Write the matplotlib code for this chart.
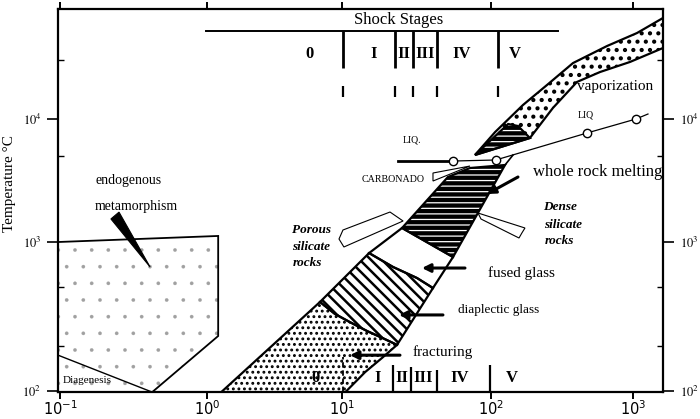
import numpy as np
import matplotlib
matplotlib.use("Agg")
import matplotlib.pyplot as plt
from matplotlib.patches import Polygon
from matplotlib.ticker import FixedLocator, NullLocator

SERIF = ["Liberation Serif", "DejaVu Serif"]
plt.rcParams["font.family"] = SERIF
plt.rcParams["hatch.linewidth"] = 1.2

# ------------------------------------------------------------------ data
# shock pressure P in GPa (x), temperature T in degC (y)
x_ticks = [0.1, 1, 10, 100, 1000]
x_tick_labels = [r"$10^{-1}$", r"$10^{0}$", r"$10^{1}$", r"$10^{2}$", r"$10^{3}$"]
y_ticks = [100, 1000, 10000]
y_tick_labels = [r"$10^{2}$", r"$10^{3}$", r"$10^{4}$"]
y_minor_ticks = [200, 500, 5000, 30000]

# endogenous metamorphism field and diagenesis limit
endo_P = [0.097, 1.21, 1.21, 0.422, 0.097]
endo_T = [1000, 1120, 234, 98, 98]
diagenesis_P = [0.097, 0.422]
diagenesis_T = [174, 98.5]

# shock-metamorphism band, field by field
frac_P = [1.27, 6.87, 8.87, 11.3, 14.7, 19.4, 23.4, 18.6, 14.3, 10.5]
frac_T = [98, 396, 329, 290, 253, 223, 204, 167, 134, 98]
diap_P = [6.87, 15.2, 22.0, 31.9, 40.8, 23.4, 19.4, 14.7, 11.3, 8.87]
diap_T = [396, 843, 680, 573, 491, 204, 223, 253, 290, 329]
fused_P = [15.2, 25.3, 55.6, 40.8, 31.9, 22.0]
fused_T = [843, 1300, 793, 491, 573, 680]
melt_P = [25.3, 51.4, 72.3, 125.5, 55.6]
melt_T = [1300, 3377, 3996, 4227, 793]
vap_P = [78.1, 107, 168, 248, 378, 656, 1067, 1800, 1800, 953, 586, 403, 273, 188]
vap_T = [5100, 7840, 13000, 18900, 28500, 39200, 50000, 70900, 39700, 29100,
         24100, 20000, 12300, 7010]
vap_melt_P = [78.1, 132, 155, 188]
vap_melt_T = [5100, 9110, 8770, 7010]
melt_edge_P = [125.5, 143]
melt_edge_T = [4227, 5100]

# liquidus (LIQ) curve
liq_P = [55.6, 108, 474, 1050]
liq_T = [4554, 4642, 7694, 10000]
liq_lead_P = [23.8, 55.6]
liq_lead_T = [4554, 4554]
liq_tail_P = [1050, 1275]
liq_tail_T = [10000, 10980]

# shock stages
stage_names = ["0", "I", "II", "III", "IV", "V"]
stage_label_P_top = [5.79, 16.4, 26.1, 36.1, 63.9, 148]
stage_bounds_top = [10.15, 22.7, 30.0, 43.4, 112]
stage_label_P_bottom = [6.31, 17.4, 25.3, 35.0, 61.9, 141]
stage_bounds_bottom = [10.15, 22.0, 29.1, 43.4, 98.5]
stage_bounds_bottom_T = [169, 149, 145, 138, 149]
stage_bar_P = [0.983, 296]

# pointer shapes
endo_pointer_P = [0.222, 0.252, 0.410]
endo_pointer_T = [1540, 1750, 680]
porous_pointer_P = [10.15, 21.0, 25.7, 10.3, 9.5]
porous_pointer_T = [1252, 1753, 1482, 926, 1058]
dense_pointer_P = [81.8, 173.5, 165, 157.5, 85.7]
dense_pointer_T = [1721, 1300, 1184, 1078, 1538]
carb_pointer_P = [40.8, 72.3, 40.8]
carb_pointer_T = [3639, 4148, 3132]


# ------------------------------------------------------------------ scales
def decade_scale(logs, units):
    logs = np.asarray(logs, float)
    units = np.asarray(units, float)

    def fwd(v):
        v = np.asarray(v, dtype=float)
        with np.errstate(divide="ignore", invalid="ignore"):
            lv = np.log10(np.where(v > 0, v, 1e-300))
        return np.interp(lv, logs, units)

    def inv(u):
        return 10.0 ** np.interp(np.asarray(u, float), units, logs)

    return fwd, inv


# unequal decade widths of the hand-drawn original axes
fx, ix = decade_scale([-12, -1, 0, 1, 2, 3, 12], [-1617, 0, 147, 282, 431, 573, 1851])
fy, iy = decade_scale([-12, 2, 3, 4, 12], [-2086, 0, 149, 272, 1256])

fig = plt.figure(figsize=(7.0, 4.19), dpi=100)
ax = fig.add_axes([58 / 700, 1 - 392 / 419, 605 / 700, 383 / 419])
ax.set_xscale("function", functions=(fx, ix))
ax.set_yscale("function", functions=(fy, iy))
ax.set_xlim(0.0969, 1627)
ax.set_ylim(98.5, 78400)


def field(P, T, **kw):
    p = Polygon(np.column_stack([P, T]), closed=True, **kw)
    ax.add_patch(p)
    return p


def set_hlw(p, w):
    if hasattr(p, "set_hatch_linewidth"):
        p.set_hatch_linewidth(w)


OUT = dict(fill=False, edgecolor="black", lw=1.6, joinstyle="miter")

# endogenous field
p = field(endo_P, endo_T, facecolor="white", edgecolor="#a0a0a0", hatch=".", lw=0)
set_hlw(p, 0.2)
field(endo_P, endo_T, fill=False, edgecolor="black", lw=1.3)
ax.plot(diagenesis_P, diagenesis_T, color="black", lw=1.0)
field(endo_pointer_P, endo_pointer_T, facecolor="black", edgecolor="black", lw=0.8)

# band fields
p = field(frac_P, frac_T, facecolor="white", edgecolor="black", hatch="...", lw=0)
set_hlw(p, 1.3)
p = field(diap_P, diap_T, facecolor="white", edgecolor="black", hatch="\\\\\\", lw=0)
set_hlw(p, 1.8)
field(fused_P, fused_T, facecolor="white", lw=0)
p = field(melt_P, melt_T, facecolor="black", edgecolor="white", hatch="---", lw=0)
set_hlw(p, 0.9)
p = field(vap_P, vap_T, facecolor="white", edgecolor="black", hatch="..", lw=0)
set_hlw(p, 1.8)
p = field(vap_melt_P, vap_melt_T, facecolor="black", edgecolor="white", hatch="---", lw=0)
set_hlw(p, 0.9)
for P, T in [(frac_P, frac_T), (diap_P, diap_T), (fused_P, fused_T),
             (melt_P, melt_T), (vap_P, vap_T), (vap_melt_P, vap_melt_T)]:
    field(P, T, **OUT)
ax.plot(melt_edge_P, melt_edge_T, color="black", lw=1.2)

# pointers
for P, T in [(porous_pointer_P, porous_pointer_T), (dense_pointer_P, dense_pointer_T),
             (carb_pointer_P, carb_pointer_T)]:
    field(P, T, facecolor="white", edgecolor="black", lw=0.8)

# liquidus
ax.plot(liq_lead_P, liq_lead_T, color="black", lw=2.0)
ax.plot(liq_tail_P, liq_tail_T, color="black", lw=0.9)
ax.plot(liq_P, liq_T, color="black", lw=0.9, marker="o", ms=6,
        markerfacecolor="white", markeredgecolor="black", markeredgewidth=1.0)

# shock stages (top)
ax.plot(stage_bar_P, [51900, 51900], color="black", lw=1.4)
ax.vlines(stage_bounds_top, 26000, 51900, color="black", lw=2.0)
ax.vlines(stage_bounds_top, 15100, 18550, color="black", lw=1.6)
for name, P in zip(stage_names, stage_label_P_top):
    ax.text(P, 33770, name, ha="center", va="center", fontsize=12, fontweight="bold")
ax.text(24.1, 63800, "Shock Stages", ha="center", va="center", fontsize=12)

# shock stages (bottom)
ax.vlines(stage_bounds_bottom[0], 98.5, stage_bounds_bottom_T[0], color="black",
          lw=1.3, linestyles=(0, (3, 1.5)))
ax.vlines(stage_bounds_bottom[1:], 98.5, stage_bounds_bottom_T[1:], color="black", lw=1.6)
for name, P in zip(stage_names, stage_label_P_bottom):
    ax.text(P, 122, name, ha="center", va="center", fontsize=12, fontweight="bold")

# arrows
arrow_kw = dict(arrowstyle="-|>", color="black", lw=2.2, mutation_scale=12,
                shrinkA=0, shrinkB=0)
ax.annotate("", xy=(34.4, 669), xytext=(66.9, 669), arrowprops=arrow_kw)
ax.annotate("", xy=(24.1, 324), xytext=(47.6, 324), arrowprops=arrow_kw)
ax.annotate("", xy=(11.3, 174), xytext=(24.5, 174), arrowprops=arrow_kw)
ax.annotate("", xy=(94.0, 2456), xytext=(154.9, 3377), arrowprops=arrow_kw)

# labels
ax.text(0.173, 3192, "endogenous", ha="left", va="center", fontsize=10)
ax.text(0.173, 1926, "metamorphism", ha="left", va="center", fontsize=10)
ax.text(0.1048, 117, "Diagenesis", ha="left", va="center", fontsize=8)
bi = dict(ha="left", va="center", fontsize=9.5, fontweight="bold", fontstyle="italic")
ax.text(4.26, 1252, "Porous", **bi)
ax.text(4.26, 926, "silicate", **bi)
ax.text(4.30, 723, "rocks", **bi)
ax.text(232, 1926, "Dense", **bi)
ax.text(238, 1375, "silicate", **bi)
ax.text(238, 1019, "rocks", **bi)
ax.text(13.6, 3252, "CARBONADO", ha="left", va="center", fontsize=7.2)
ax.text(25.7, 6750, "LIQ.", ha="left", va="center", fontsize=7)
ax.text(410, 10780, "LIQ", ha="left", va="center", fontsize=7)
ax.text(403, 18210, "vaporization", ha="left", va="center", fontsize=11)
ax.text(197.6, 3708, "whole rock melting", ha="left", va="center", fontsize=12)
ax.text(95.5, 619, "fused glass", ha="left", va="center", fontsize=11)
ax.text(60.0, 350, "diaplectic glass", ha="left", va="center", fontsize=9.5)
ax.text(29.96, 183, "fracturing", ha="left", va="center", fontsize=11)

# axes, ticks
for s in ax.spines.values():
    s.set_linewidth(1.6)
ax.set_xticks(x_ticks, x_tick_labels)
ax.xaxis.set_minor_locator(NullLocator())
ax.set_yticks(y_ticks, y_tick_labels)
ax.yaxis.set_minor_locator(FixedLocator(y_minor_ticks))
ax.tick_params(axis="x", which="major", direction="out", length=5, width=1.4,
               top=True, labeltop=False, labelsize=10.5, pad=0.5)
ax.tick_params(axis="y", which="major", direction="out", length=8, width=1.2,
               right=True, labelright=True, labelsize=9, pad=4)
ax.tick_params(axis="y", which="minor", direction="in", length=4, width=1.0,
               left=True, right=True)
for t in ax.xaxis.get_major_ticks():
    t.label1.set_math_fontfamily("dejavusans")
for t in ax.yaxis.get_major_ticks():
    t.label1.set_math_fontfamily("stix")
    t.label2.set_math_fontfamily("stix")

fig.text(10 / 700, 1 - 184 / 419, "Temperature °C", rotation=90, ha="center",
         va="center", fontsize=11)

fig.savefig("out.png", dpi=100, facecolor="white")
